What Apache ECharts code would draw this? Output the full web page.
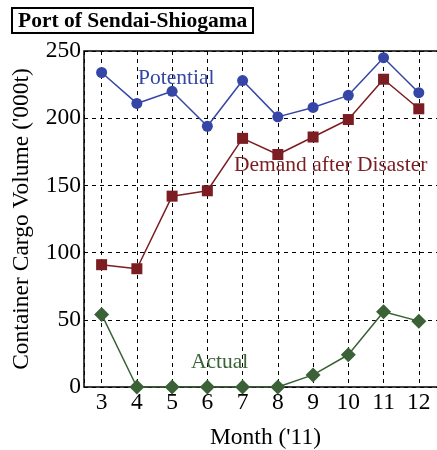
<!DOCTYPE html>
<html>
<head>
<meta charset="utf-8">
<script src="https://cdn.jsdelivr.net/npm/echarts@6/dist/echarts.min.js"></script>
<style>
  html, body { margin: 0; padding: 0; background: #fff; }
  #chart { width: 437px; height: 450px; }
</style>
</head>
<body>
<div id="chart"></div>
<script>
const months = [3, 4, 5, 6, 7, 8, 9, 10, 11, 12];
const potential = [234, 211, 220, 194, 228, 201, 208, 217, 245, 219];
const demand = [91, 88, 142, 146, 185, 173, 186, 199, 229, 207];
const actual = [54, 0, 0, 0, 0, 0, 9, 24, 56, 49];

const FONT = "Liberation Serif";
const BLUE = "#3546a6";
const RED = "#7b1d22";
const GREEN = "#3a6236";

function pairs(vals) {
  return months.map((m, i) => [m, vals[i]]);
}

function labelPoint(text, x, y, color) {
  return {
    coord: [x, y],
    symbolSize: 0,
    label: {
      show: true,
      formatter: text,
      position: "inside",
      color: color,
      fontFamily: FONT,
      fontSize: 21.5
    }
  };
}

let chart = echarts.init(document.getElementById("chart"));

let option = {
  animation: false,
  title: {
    text: "Port of Sendai-Shiogama",
    left: 12,
    top: 8,
    padding: [2, 6, 1, 6],
    borderColor: "#000",
    borderWidth: 2,
    textStyle: {
      fontFamily: FONT,
      fontWeight: "bold",
      fontSize: 21.5,
      color: "#000"
    }
  },
  grid: {
    left: 84,
    top: 51,
    bottom: 63,
    right: -10,
    outerBoundsMode: "none",
    containLabel: false,
    show: true,
    borderColor: "#000",
    borderWidth: 1.5
  },
  xAxis: {
    type: "value",
    min: 2.5,
    max: 12.8,
    splitNumber: 10,
    name: "Month ('11)",
    nameLocation: "middle",
    nameGap: 39,
    nameTextStyle: { fontFamily: FONT, fontSize: 23.5, color: "#000" },
    axisLine: { show: false },
    axisTick: { show: false },
    axisLabel: {
      fontFamily: FONT,
      fontSize: 23.5,
      color: "#000",
      margin: 4,
      formatter: function (v) {
        return Number.isInteger(v) ? String(v) : "";
      }
    },
    splitLine: {
      show: true,
      lineStyle: { color: "#000", type: [4, 4], width: 1 }
    }
  },
  yAxis: {
    type: "value",
    min: 0,
    max: 250,
    interval: 50,
    name: "Container Cargo Volume ('000t)",
    nameLocation: "middle",
    nameGap: 50,
    nameTextStyle: { fontFamily: FONT, fontSize: 23.5, color: "#000" },
    axisLine: { show: false },
    axisTick: { show: false },
    axisLabel: {
      fontFamily: FONT,
      fontSize: 23.5,
      color: "#000",
      margin: 3
    },
    splitLine: {
      show: true,
      lineStyle: { color: "#000", type: [4, 4], width: 1 }
    }
  },
  series: [
    {
      name: "Potential",
      type: "line",
      data: pairs(potential),
      symbol: "circle",
      symbolSize: 11,
      itemStyle: { color: BLUE },
      lineStyle: { color: BLUE, width: 1.5 },
      markPoint: { data: [labelPoint("Potential", 5.12, 230, BLUE)] }
    },
    {
      name: "Demand after Disaster",
      type: "line",
      data: pairs(demand),
      symbol: "rect",
      symbolSize: 11,
      itemStyle: { color: RED },
      lineStyle: { color: RED, width: 1.5 },
      markPoint: { data: [labelPoint("Demand after Disaster", 9.5, 165, RED)] }
    },
    {
      name: "Actual",
      type: "line",
      data: pairs(actual),
      symbol: "diamond",
      symbolSize: 15,
      itemStyle: { color: GREEN },
      lineStyle: { color: GREEN, width: 1.5 },
      markPoint: { data: [labelPoint("Actual", 6.35, 18, GREEN)] }
    }
  ]
};

chart.setOption(option);
</script>
</body>
</html>
